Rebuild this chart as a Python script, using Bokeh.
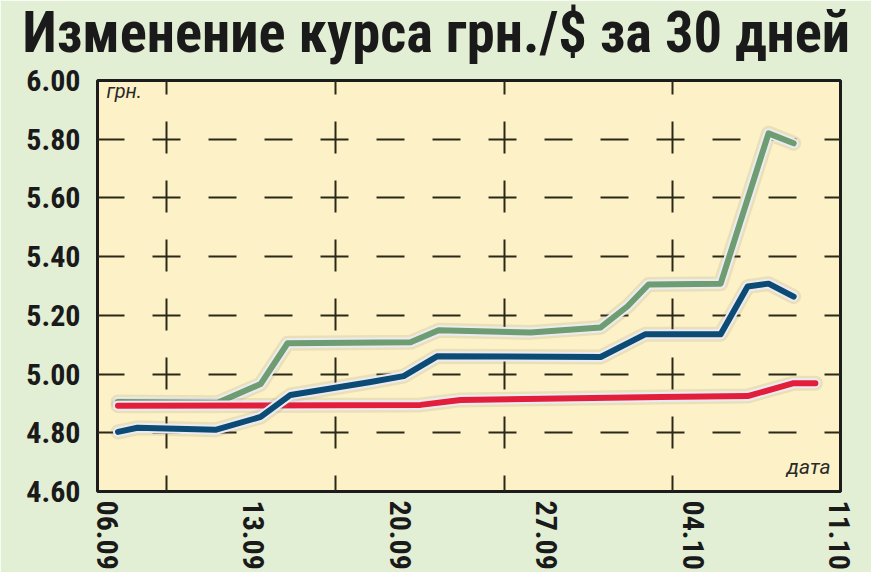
from bokeh.plotting import figure
from bokeh.models import Range1d, FixedTicker, Label, NumeralTickFormatter, Title
from bokeh.embed import file_html
from bokeh.resources import INLINE

# --- data: days counted from 06.09 ---
tick_days = [0, 7, 14, 21, 28, 35]
tick_labels = ["06.09", "13.09", "20.09", "27.09", "04.10", "11.10"]
y_ticks = [4.6, 4.8, 5.0, 5.2, 5.4, 5.6, 5.8, 6.0]

green_x = [0.5, 5.26, 7.32, 8.61, 14.49, 15.83, 20.23, 23.58, 24.87, 25.87, 29.32, 31.61, 32.81]
green_y = [4.905, 4.902, 4.966, 5.105, 5.108, 5.149, 5.142, 5.159, 5.231, 5.305, 5.308, 5.820, 5.786]

blue_x = [0.5, 1.43, 5.16, 7.32, 8.75, 12.58, 14.16, 15.78, 23.58, 25.73, 29.32, 30.61, 31.61, 32.81]
blue_y = [4.803, 4.817, 4.810, 4.854, 4.929, 4.973, 4.993, 5.061, 5.058, 5.136, 5.136, 5.298, 5.308, 5.264]

red_x = [0.5, 14.97, 16.88, 26.45, 30.61, 32.81, 33.85]
red_y = [4.892, 4.895, 4.912, 4.922, 4.925, 4.969, 4.969]

grid_days = [2.82, 10.89, 18.96, 27.03]

TITLE = "Изменение курса грн./$ за 30 дней"
FONT = "Roboto Condensed"

p = figure(width=871, height=572, output_backend="svg", toolbar_location=None,
           x_range=Range1d(-0.48, 35.05), y_range=Range1d(4.6, 6.0),
           min_border_left=97, min_border_right=31, min_border_top=80, min_border_bottom=79)

p.background_fill_color = "#fdf2c7"
p.border_fill_color = "#e3efd5"
p.outline_line_color = "#1c1c1c"
p.outline_line_width = 3

# title: a thin spacer next to the frame, then the heading above it
p.add_layout(Title(text=" ", text_font_size="1px", standoff=22), "above")
p.add_layout(Title(text=TITLE, text_font=FONT, text_font_style="bold", text_font_size="56.5px",
                   text_color="#1a1a1a", standoff=-20, offset=-75), "above")

# grid: dashes and crosses
p.ygrid.ticker = FixedTicker(ticks=y_ticks)
p.ygrid.grid_line_color = "#2a2818"
p.ygrid.grid_line_width = 2
p.ygrid.grid_line_dash = "28 28"
p.ygrid.grid_line_dash_offset = 1
p.xgrid.ticker = FixedTicker(ticks=grid_days)
p.xgrid.grid_line_color = "#2a2818"
p.xgrid.grid_line_width = 2
p.xgrid.grid_line_dash = "32 27"
p.xgrid.grid_line_dash_offset = 16

# axes
for ax in (p.xaxis, p.yaxis):
    ax.axis_line_color = None
    ax.major_tick_line_color = None
    ax.minor_tick_line_color = None
    ax.major_tick_out = 0
    ax.major_tick_in = 0
    ax.minor_tick_out = 0
    ax.minor_tick_in = 0
    ax.major_label_text_font = FONT
    ax.major_label_text_font_style = "bold"
    ax.major_label_text_font_size = "30px"
    ax.major_label_text_color = "#1a1a1a"

p.yaxis.ticker = FixedTicker(ticks=y_ticks)
p.yaxis.formatter = NumeralTickFormatter(format="0.00")
p.yaxis.major_label_standoff = 17
p.xaxis.ticker = FixedTicker(ticks=tick_days)
p.xaxis.major_label_overrides = {d: s for d, s in zip(tick_days, tick_labels)}
p.xaxis.major_label_orientation = "vertical"
p.xaxis.major_label_standoff = 9

# lines: shadow, light outline, colour
for xs, ys, col in ((green_x, green_y, "#6d9d70"), (red_x, red_y, "#e31e3a"), (blue_x, blue_y, "#0c4b74")):
    p.line(xs, ys, line_color="#7d7868", line_alpha=0.15, line_width=15,
           line_join="round", line_cap="round")
    p.line(xs, ys, line_color="#ecebf4", line_width=10,
           line_join="round", line_cap="round")
    p.line(xs, ys, line_color=col, line_width=6,
           line_join="round", line_cap="round")

p.add_layout(Label(x=-0.05, y=5.922, text="грн.", text_font_style="italic",
                   text_font_size="20px", text_color="#2a2a2a", text_font="Roboto"))
p.add_layout(Label(x=34.58, y=4.644, text="дата", text_font_style="italic", text_align="right",
                   text_font_size="21px", text_color="#2a2a2a", text_font="Roboto"))

open("out.html", "w").write(file_html(p, INLINE))
